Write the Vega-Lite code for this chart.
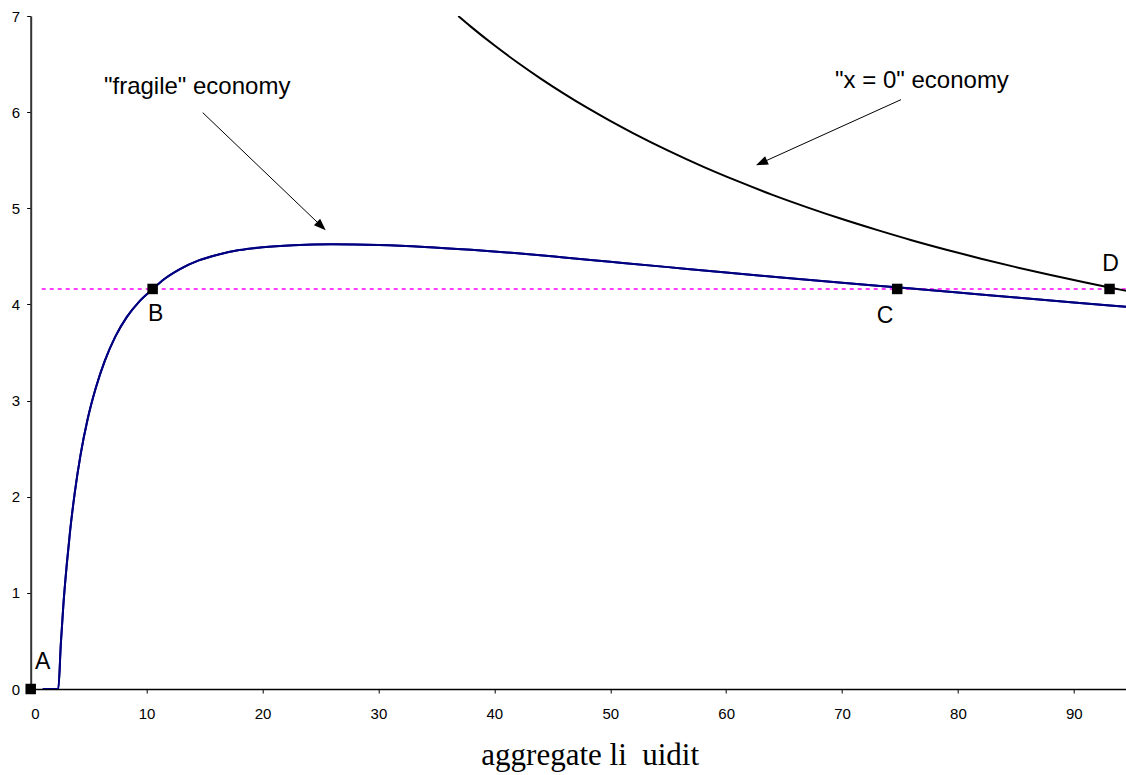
{
  "$schema": "https://vega.github.io/schema/vega-lite/v6.json",
  "autosize": {"type": "none"},
  "padding": {"left": 30.7, "top": 16, "right": 0, "bottom": 86},
  "width": 1095.3,
  "height": 673,
  "background": "white",
  "config": {"view": {"stroke": null}},
  "datasets": {
    "fragile": [
      {"x": 1.04, "y": 0}, {"x": 2.38, "y": 0}, {"x": 2.6, "y": 0.47}, {"x": 2.81, "y": 0.86},
      {"x": 3.1, "y": 1.28}, {"x": 3.4, "y": 1.645}, {"x": 3.8, "y": 2.04}, {"x": 4.3, "y": 2.435},
      {"x": 4.9, "y": 2.8}, {"x": 5.6, "y": 3.125}, {"x": 6.4, "y": 3.415}, {"x": 7.3, "y": 3.665},
      {"x": 8.3, "y": 3.87}, {"x": 9.4, "y": 4.035}, {"x": 10.53, "y": 4.16}, {"x": 11.5, "y": 4.262},
      {"x": 12.88, "y": 4.368}, {"x": 14.5, "y": 4.458}, {"x": 16.05, "y": 4.515}, {"x": 18.0, "y": 4.565},
      {"x": 20.0, "y": 4.595}, {"x": 22.66, "y": 4.616}, {"x": 26.0, "y": 4.625}, {"x": 30.0, "y": 4.618},
      {"x": 34.0, "y": 4.598}, {"x": 38.0, "y": 4.568}, {"x": 42.0, "y": 4.532}, {"x": 46.0, "y": 4.489},
      {"x": 50.0, "y": 4.444}, {"x": 55.0, "y": 4.388}, {"x": 60.0, "y": 4.332}, {"x": 65.0, "y": 4.278},
      {"x": 70.0, "y": 4.226}, {"x": 74.72, "y": 4.178}, {"x": 80.0, "y": 4.124}, {"x": 85.0, "y": 4.073},
      {"x": 90.0, "y": 4.021}, {"x": 94.5, "y": 3.975}
    ],
    "zero": [
      {"x": 36.89, "y": 7.0}, {"x": 38.0, "y": 6.887}, {"x": 40.0, "y": 6.695}, {"x": 42.0, "y": 6.516},
      {"x": 44.0, "y": 6.349}, {"x": 46.0, "y": 6.193}, {"x": 48.0, "y": 6.046}, {"x": 50.0, "y": 5.909},
      {"x": 52.0, "y": 5.78}, {"x": 55.0, "y": 5.6}, {"x": 58.0, "y": 5.434}, {"x": 61.0, "y": 5.282},
      {"x": 64.0, "y": 5.14}, {"x": 67.0, "y": 5.01}, {"x": 70.0, "y": 4.888}, {"x": 73.0, "y": 4.775},
      {"x": 76.0, "y": 4.668}, {"x": 79.0, "y": 4.569}, {"x": 82.0, "y": 4.476}, {"x": 85.0, "y": 4.388},
      {"x": 88.0, "y": 4.306}, {"x": 91.0, "y": 4.228}, {"x": 93.08, "y": 4.176}, {"x": 94.5, "y": 4.142}
    ],
    "points": [
      {"name": "A", "x": 0, "y": 0},
      {"name": "B", "x": 10.52, "y": 4.161},
      {"name": "C", "x": 74.76, "y": 4.161},
      {"name": "D", "x": 93.08, "y": 4.161}
    ],
    "letters": [
      {"name": "A", "x": 1.04, "y": 0.208},
      {"name": "B", "x": 10.79, "y": 3.829},
      {"name": "C", "x": 73.71, "y": 3.808},
      {"name": "D", "x": 93.17, "y": 4.348}
    ],
    "level": [{"x": 0.95, "x2": 94.5, "y": 4.161}],
    "notes": [
      {"text": "\"fragile\" economy", "x": 6.32, "y": 6.185},
      {"text": "\"x = 0\" economy", "x": 69.4, "y": 6.255}
    ],
    "arrows": [
      {"x": 14.84, "y": 5.995, "x2": 25.08, "y2": 4.814},
      {"x": 75.09, "y": 6.13, "x2": 63.05, "y2": 5.473}
    ],
    "headFragile": [{"x": 25.08, "y": 4.814}],
    "headZero": [{"x": 63.05, "y": 5.473}]
  },
  "layer": [
    {
      "data": {"name": "fragile"},
      "mark": {"type": "line", "color": "#000080", "strokeWidth": 2, "clip": true, "interpolate": "monotone"},
      "encoding": {
        "x": {
          "field": "x", "type": "quantitative",
          "scale": {"domain": [0, 94.5], "nice": false, "zero": false},
          "axis": {
            "values": [0, 10, 20, 30, 40, 50, 60, 70, 80, 90],
            "format": "d",
            "grid": false,
            "tickSize": 4, "tickColor": "black", "tickWidth": 1,
            "domainColor": "black", "domainWidth": 1.5,
            "labelFont": "Liberation Sans", "labelFontSize": 15, "labelColor": "black",
            "labelPadding": 13,
            "title": "aggregate li\u00a0\u00a0uidit",
            "titleFont": "Liberation Serif", "titleFontSize": 31, "titleFontWeight": "normal",
            "titleColor": "black", "titleX": 559, "titleY": 75, "titleAlign": "center",
            "titleBaseline": "alphabetic", "titleAnchor": null
          }
        },
        "y": {
          "field": "y", "type": "quantitative",
          "scale": {"domain": [0, 7], "nice": false},
          "axis": {
            "values": [0, 1, 2, 3, 4, 5, 6, 7],
            "format": "d",
            "grid": false,
            "tickSize": 4, "tickColor": "black", "tickWidth": 1,
            "domainColor": "#333333", "domainWidth": 2,
            "labelFont": "Liberation Sans", "labelFontSize": 15, "labelColor": "black",
            "labelPadding": 7,
            "title": null
          }
        },
        "order": {"field": "x", "type": "quantitative"}
      }
    },
    {
      "mark": {"type": "rule", "color": "#888888", "strokeWidth": 1.5},
      "encoding": {"y": {"datum": 7, "type": "quantitative"}}
    },
    {
      "data": {"name": "level"},
      "mark": {"type": "rule", "color": "#FF00FF", "strokeWidth": 1.5, "strokeDash": [4, 4]},
      "encoding": {
        "x": {"field": "x", "type": "quantitative"},
        "x2": {"field": "x2"},
        "y": {"field": "y", "type": "quantitative"}
      }
    },
    {
      "data": {"name": "fragile"},
      "mark": {"type": "line", "color": "#000080", "strokeWidth": 2, "clip": true, "interpolate": "monotone"},
      "encoding": {
        "x": {"field": "x", "type": "quantitative"},
        "y": {"field": "y", "type": "quantitative"},
        "order": {"field": "x", "type": "quantitative"}
      }
    },
    {
      "data": {"name": "zero"},
      "mark": {"type": "line", "color": "black", "strokeWidth": 2, "clip": true, "interpolate": "monotone"},
      "encoding": {
        "x": {"field": "x", "type": "quantitative"},
        "y": {"field": "y", "type": "quantitative"},
        "order": {"field": "x", "type": "quantitative"}
      }
    },
    {
      "data": {"name": "arrows"},
      "mark": {"type": "rule", "color": "black", "strokeWidth": 1},
      "encoding": {
        "x": {"field": "x", "type": "quantitative"},
        "y": {"field": "y", "type": "quantitative"},
        "x2": {"field": "x2"},
        "y2": {"field": "y2"}
      }
    },
    {
      "data": {"name": "headFragile"},
      "mark": {"type": "point", "shape": "M0,-1L-0.75,1L0.75,1Z", "size": 144, "filled": true, "color": "black", "opacity": 1, "angle": 133.7},
      "encoding": {
        "x": {"field": "x", "type": "quantitative"},
        "y": {"field": "y", "type": "quantitative"}
      }
    },
    {
      "data": {"name": "headZero"},
      "mark": {"type": "point", "shape": "M0,-1L-0.75,1L0.75,1Z", "size": 144, "filled": true, "color": "black", "opacity": 1, "angle": 245.6},
      "encoding": {
        "x": {"field": "x", "type": "quantitative"},
        "y": {"field": "y", "type": "quantitative"}
      }
    },
    {
      "data": {"name": "points"},
      "mark": {"type": "point", "shape": "square", "size": 110, "filled": true, "color": "black", "opacity": 1, "clip": false},
      "encoding": {
        "x": {"field": "x", "type": "quantitative"},
        "y": {"field": "y", "type": "quantitative"}
      }
    },
    {
      "data": {"name": "letters"},
      "mark": {"type": "text", "font": "Liberation Sans", "fontSize": 23, "color": "black", "align": "center", "baseline": "alphabetic"},
      "encoding": {
        "x": {"field": "x", "type": "quantitative"},
        "y": {"field": "y", "type": "quantitative"},
        "text": {"field": "name"}
      }
    },
    {
      "data": {"name": "notes"},
      "mark": {"type": "text", "font": "Liberation Sans", "fontSize": 24, "color": "black", "align": "left", "baseline": "alphabetic"},
      "encoding": {
        "x": {"field": "x", "type": "quantitative"},
        "y": {"field": "y", "type": "quantitative"},
        "text": {"field": "text"}
      }
    }
  ]
}
